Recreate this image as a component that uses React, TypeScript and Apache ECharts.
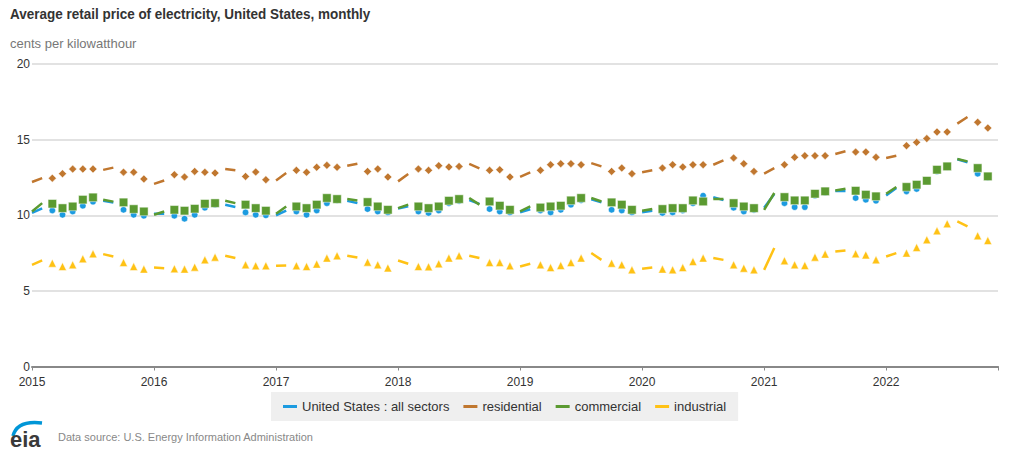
import React, { useEffect, useRef } from "react";
import * as echarts from "echarts";

const FIRST_YEAR = 2015;
const LAST_MONTH_INDEX = 95; // Dec 2022, end of the time axis (months since Jan 2015)

const SERIES_NAMES = ["United States : all sectors", "residential", "commercial", "industrial"];
const COLORS = ["#1c9be0", "#c0772f", "#5b9a31", "#ffc215"];
const SYMBOLS = ["circle", "diamond", "rect", "triangle"];
const SYMBOL_SIZES = [6.5, 8, 8.5, 8];

// Average retail price, cents per kilowatthour, monthly Jan 2015 - Nov 2022
const allSectors = [
  10.15, 10.45, 10.32, 10.03, 10.25, 10.63, 10.9, 10.95, 10.85, 10.36, 10.03, 9.97,
  10.1, 10.1, 9.97, 9.77, 10.03, 10.5, 10.7, 10.7, 10.55, 10.19, 10.03, 10.0,
  10.0, 10.3, 10.25, 10.03, 10.32, 10.8, 11.0, 10.95, 10.8, 10.41, 10.25, 10.19,
  10.45, 10.6, 10.25, 10.15, 10.32, 10.8, 10.95, 11.0, 10.75, 10.41, 10.25, 10.19,
  10.2, 10.4, 10.32, 10.19, 10.36, 10.7, 11.0, 11.05, 10.85, 10.36, 10.32, 10.19,
  10.2, 10.3, 10.15, 10.19, 10.32, 10.8, 11.29, 11.2, 11.0, 10.5, 10.25, 10.35,
  10.5, 11.4, 10.8, 10.54, 10.54, 11.3, 11.5, 11.6, 11.6, 11.14, 11.03, 10.96,
  11.3, 11.8, 11.58, 11.74, 12.25, 12.9, 13.2, 13.7, 13.5, 12.75, 12.5,
];

const residential = [
  12.2, 12.45, 12.45, 12.75, 13.05, 13.05, 13.05, 13.0, 13.15, 12.85, 12.85, 12.4,
  12.07, 12.3, 12.68, 12.53, 12.9, 12.84, 12.79, 13.06, 12.97, 12.57, 12.86, 12.35,
  12.3, 12.79, 12.97, 12.84, 13.17, 13.3, 13.17, 13.27, 13.41, 12.9, 13.06, 12.53,
  12.24, 12.73, 13.06, 12.97, 13.28, 13.19, 13.23, 13.39, 13.1, 12.97, 13.01, 12.53,
  12.53, 12.84, 12.97, 13.34, 13.41, 13.41, 13.34, 13.45, 13.23, 12.9, 13.12, 12.75,
  12.84, 12.97, 13.12, 13.34, 13.19, 13.34, 13.34, 13.34, 13.63, 13.79, 13.41, 12.9,
  12.75, 13.12, 13.34, 13.83, 13.94, 13.94, 13.94, 14.05, 14.23, 14.18, 14.18, 13.83,
  13.79, 13.94, 14.6, 14.82, 15.07, 15.51, 15.51, 16.06, 16.5, 16.15, 15.77,
];

const commercial = [
  10.25, 10.8, 10.76, 10.47, 10.58, 11.03, 11.18, 11.03, 10.9, 10.85, 10.41, 10.25,
  10.03, 10.25, 10.36, 10.3, 10.43, 10.76, 10.8, 10.96, 10.8, 10.7, 10.47, 10.3,
  10.1, 10.58, 10.58, 10.47, 10.7, 11.14, 11.07, 11.07, 10.98, 10.87, 10.58, 10.36,
  10.47, 10.7, 10.58, 10.47, 10.58, 10.96, 11.07, 11.14, 10.7, 10.91, 10.63, 10.36,
  10.25, 10.58, 10.51, 10.58, 10.63, 10.98, 11.14, 11.14, 10.91, 10.85, 10.7, 10.36,
  10.3, 10.41, 10.41, 10.47, 10.47, 10.98, 10.91, 11.07, 11.07, 10.8, 10.58, 10.47,
  10.36, 11.47, 11.2, 10.98, 10.98, 11.42, 11.58, 11.64, 11.75, 11.62, 11.36, 11.25,
  11.42, 11.87, 11.87, 12.02, 12.28, 13.01, 13.23, 13.72, 13.56, 13.12, 12.57,
];

const industrial = [
  6.72, 7.01, 6.83, 6.61, 6.72, 7.12, 7.45, 7.43, 7.27, 6.87, 6.61, 6.44,
  6.54, 6.5, 6.46, 6.44, 6.57, 7.05, 7.23, 7.32, 7.17, 6.72, 6.66, 6.66,
  6.66, 6.68, 6.66, 6.61, 6.77, 7.17, 7.32, 7.32, 7.21, 6.9, 6.72, 6.52,
  7.01, 6.79, 6.61, 6.59, 6.79, 7.17, 7.32, 7.32, 7.17, 6.87, 6.87, 6.66,
  6.61, 6.79, 6.72, 6.54, 6.68, 6.87, 7.17, 7.5, 7.05, 6.83, 6.72, 6.39,
  6.46, 6.54, 6.44, 6.39, 6.54, 6.94, 7.17, 7.17, 7.05, 6.72, 6.5, 6.39,
  6.39, 7.83, 6.99, 6.72, 6.68, 7.23, 7.43, 7.6, 7.67, 7.45, 7.38, 7.05,
  7.27, 7.5, 7.5, 7.87, 8.38, 8.97, 9.44, 9.59, 9.26, 8.64, 8.33,
];

const SERIES_VALUES = [allSectors, residential, commercial, industrial];

// Calendar months (0 = Jan) joined by a line segment instead of a point marker
const SEGMENT_MONTHS = [0, 1, 7, 8];

const Y_MIN = 0;
const Y_MAX = 20;
const Y_STEP = 5;

const FONT = "'Liberation Sans', Arial, sans-serif";

function buildOption(): echarts.EChartsOption {
  const segmentSeries = SERIES_VALUES.map((vals, k) => ({
    name: SERIES_NAMES[k],
    type: "line" as const,
    data: vals.map((v, i) => [i, SEGMENT_MONTHS.includes(i % 12) ? v : "-"]),
    showSymbol: false,
    symbol: "none",
    connectNulls: false,
    lineStyle: { color: COLORS[k], width: 2.5 },
    itemStyle: { color: COLORS[k] },
    z: 2,
  }));

  const markerSeries = SERIES_VALUES.map((vals, k) => ({
    name: SERIES_NAMES[k],
    type: "scatter" as const,
    data: vals
      .map((v, i) => [i, v])
      .filter((_, i) => !SEGMENT_MONTHS.includes(i % 12)),
    symbol: SYMBOLS[k],
    symbolSize: SYMBOL_SIZES[k],
    itemStyle: {
      color: COLORS[k],
      borderColor: "rgba(255,255,255,0.6)",
      borderWidth: 0.8,
      opacity: 1,
    },
    z: 3,
  }));

  return {
    animation: false,
    backgroundColor: "#ffffff",
    textStyle: { fontFamily: FONT },
    grid: { left: 32, right: 26, top: 64, bottom: 90.5, containLabel: false },
    legend: {
      data: SERIES_NAMES.map((name) => ({ name, icon: "rect" })),
      left: 271,
      top: 392,
      padding: [8, 12, 8, 12],
      itemGap: 14,
      itemWidth: 14,
      itemHeight: 3,
      backgroundColor: "#efefef",
      textStyle: { fontSize: 13, color: "#333", fontFamily: FONT },
    },
    xAxis: {
      type: "value",
      min: 0,
      max: LAST_MONTH_INDEX,
      interval: 12,
      axisLine: { show: true, lineStyle: { color: "#888", width: 2 } },
      axisTick: { show: true, length: 4, lineStyle: { color: "#888", width: 1 } },
      axisLabel: {
        margin: 9,
        fontSize: 12,
        color: "#333",
        fontFamily: FONT,
        formatter: (v: number) => (v % 12 === 0 ? String(FIRST_YEAR + v / 12) : ""),
      },
      splitLine: { show: false },
    },
    yAxis: {
      type: "value",
      min: Y_MIN,
      max: Y_MAX,
      interval: Y_STEP,
      axisLine: { show: false },
      axisTick: { show: false },
      axisLabel: { margin: 2, fontSize: 12, color: "#333", fontFamily: FONT },
      splitLine: { show: true, lineStyle: { color: "#e2e2e2", width: 2 } },
    },
    series: [...segmentSeries, ...markerSeries],
    graphic: [
      {
        type: "text",
        x: 10,
        y: 6,
        scaleX: 0.9,
        style: {
          text: "Average retail price of electricity, United States, monthly",
          font: `bold 15px ${FONT}`,
          fill: "#333",
          textVerticalAlign: "top",
        },
      },
      {
        type: "text",
        left: 10,
        top: 37,
        style: {
          text: "cents per kilowatthour",
          font: `13px ${FONT}`,
          fill: "#777",
        },
      },
      {
        type: "bezierCurve",
        shape: { x1: 13, y1: 436, cpx1: 17, cpy1: 420, x2: 42, y2: 423 },
        style: { stroke: "#0096d7", lineWidth: 3.5, fill: "none" },
      },
      {
        type: "text",
        left: 10,
        top: 428,
        style: {
          text: "eia",
          font: `bold 22px ${FONT}`,
          fill: "#3a3a3a",
        },
      },
      {
        type: "text",
        left: 58,
        top: 431,
        style: {
          text: "Data source: U.S. Energy Information Administration",
          font: `11px ${FONT}`,
          fill: "#888",
        },
      },
    ],
  };
}

export default function App() {
  const ref = useRef<HTMLDivElement>(null);

  useEffect(() => {
    document.body.style.margin = "0";
    if (!ref.current) return;
    const chart = echarts.init(ref.current, undefined, { renderer: "svg" });
    chart.setOption(buildOption());
    return () => chart.dispose();
  }, []);

  return <div ref={ref} style={{ width: 1024, height: 457 }} />;
}
